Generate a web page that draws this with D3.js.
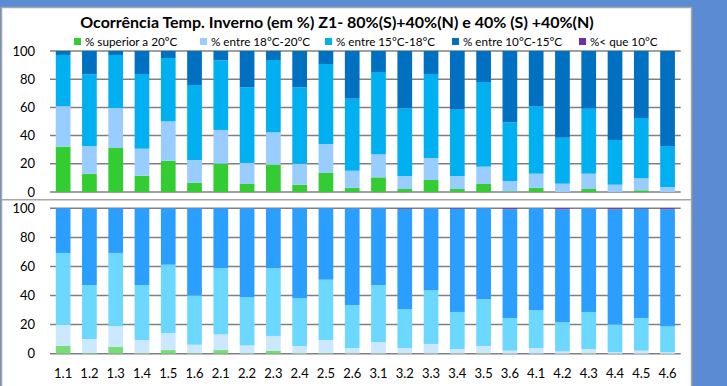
<!DOCTYPE html>
<html><head><meta charset="utf-8">
<script src="https://cdn.jsdelivr.net/npm/d3@7/dist/d3.min.js"></script>
<style>html,body{margin:0;padding:0;background:#5A8BD3;}svg{display:block;font-family:Lato,"Open Sans",sans-serif;}</style>
</head><body><svg id="c" width="727" height="386"></svg>
<script>
const categories = ["1.1","1.2","1.3","1.4","1.5","1.6","2.1","2.2","2.3","2.4","2.5","2.6","3.1","3.2","3.3","3.4","3.5","3.6","4.1","4.2","4.3","4.4","4.5","4.6"];
const seriesNames = ["% superior a 20ºC","% entre 18°C-20°C","% entre 15°C-18°C","% entre 10°C-15°C","%< que 10°C"];
const yTicks = [0,20,40,60,80,100];
const titleText = "Ocorrência Temp. Inverno (em %) Z1- 80%(S)+40%(N) e 40% (S) +40%(N)";

// top panel
const topSup20  = [32.2,13,31.2,11.6,22.2,6.6,20.1,5.7,19.4,5.2,13.5,2.8,10.4,2.1,8.5,2.1,5.7,0.5,2.8,0,2.1,0,1.2,0];
const top18_20  = [28.6,19.6,28.4,19.1,27.9,16.1,23.9,14.9,22.9,14.9,20.5,12.3,16.3,9.2,15.6,9.2,12.3,7.3,10.2,5.9,10.9,5.2,8.5,3.5];
const top15_18  = [36.4,50.9,37.6,53,44.9,53.2,49.4,53.6,51.3,54.1,56.8,51.1,58.4,48,59.6,47.1,60,41.6,47.8,32.6,46.1,31.7,42.8,29.1];
const top10_15  = [2.8,16.5,2.8,16.3,5,24.1,6.6,25.8,6.4,25.8,9.2,33.8,14.9,40.7,16.3,41.6,22,50.6,39.2,61.5,40.9,63.1,47.5,67.4];
const topInf10  = [0,0,0,0,0,0,0,0,0,0,0,0,0,0,0,0,0,0,0,0,0,0,0,0];

// bottom panel
const botSup20  = [5.3,0.4,4.6,0.3,2.5,0.3,2.5,0.2,2.1,0.2,0.3,0.2,0.2,0.1,0.2,0.1,0.2,0,0.1,0,0.1,0,0,0];
const bot18_20  = [14.4,9.7,14.4,9.1,11.7,5.9,10.8,5.5,10.1,5.1,9.1,3.7,7.8,3.8,6.5,3.1,5.1,2.1,3.8,1.6,3.1,1.1,2.1,1.1];
const bot15_18  = [49.6,37.1,50.3,37.8,47,33.9,45.6,33.3,46.7,32.8,41.5,29.6,39.2,26.8,36.9,25.5,32.3,22.4,26.1,20,25.5,19.1,22.4,17.7];
const bot10_15  = [30.7,52.8,30.7,52.8,38.8,59.9,41.1,61,41.1,61.9,49.1,66.5,52.8,69,56.4,71,62.4,74.8,70,77.7,71.3,79.1,75.2,80.5];
const botInf10  = [0,0,0,0,0,0,0,0,0,0,0,0,0,0.3,0,0.3,0,0.7,0,0.7,0,0.7,0.3,0.7];

const topColors = ["#33CC33","#99CCFF","#00B0F0","#0070C0","#7030A0"];
const botColors = ["#77DD77","#CCE8FF","#6DD8FF","#2B9FFF","#7030A0"];

const svg = d3.select("#c");
// frame
svg.append("rect").attr("x",1.5).attr("y",7.5).attr("width",690).attr("height",390)
  .attr("fill","#fff").attr("stroke","#A6A6A6").attr("stroke-width",1.5);
svg.append("line").attr("x1",1.5).attr("x2",691.5).attr("y1",199.8).attr("y2",199.8)
  .attr("stroke","#A6A6A6").attr("stroke-width",1.5);

const x = d3.scaleBand().domain(categories).range([50,680.7]).paddingInner(0.44).paddingOuter(0.22);

function panel(data, colors, y0, y100, showLabels){
  const y = d3.scaleLinear().domain([0,100]).range([y0,y100]);
  const g = svg.append("g");
  // grid
  g.selectAll("line.grid").data(yTicks).join("line")
    .attr("x1",50).attr("x2",680.7).attr("y1",d=>y(d)).attr("y2",d=>y(d))
    .attr("stroke","#808080").attr("stroke-width",1.5);
  // y labels
  const ax = d3.axisLeft(y).tickValues(yTicks).tickSize(0).tickPadding(15);
  const ag = g.append("g").attr("transform","translate(50,0)").call(ax);
  ag.select(".domain").remove();
  ag.selectAll("text").attr("font-size",13).attr("fill","#000").attr("font-family","Lato,sans-serif");
  // stacked bars
  const rows = categories.map((c,i)=>{const o={cat:c}; data.forEach((s,k)=>o["s"+k]=s[i]); return o;});
  const stack = d3.stack().keys(data.map((_,k)=>"s"+k))(rows);
  stack.forEach((layer,k)=>{
    g.append("g").selectAll("rect").data(layer).join("rect")
      .attr("x",d=>x(d.data.cat)).attr("width",x.bandwidth())
      .attr("y",d=>y(d[1])).attr("height",d=>Math.max(0,y(d[0])-y(d[1])))
      .attr("fill",colors[k]);
  });
  if(showLabels){
    const xa = d3.axisBottom(x).tickSize(0).tickPadding(15);
    const xg = g.append("g").attr("transform",`translate(0,${y0})`).call(xa);
    xg.select(".domain").remove();
    xg.selectAll("text").attr("font-size",13).attr("fill","#000").attr("font-family","Lato,sans-serif");
  }
}
panel([topSup20,top18_20,top15_18,top10_15,topInf10], topColors, 192, 51, false);
panel([botSup20,bot18_20,bot15_18,bot10_15,botInf10], botColors, 353.7, 208.3, true);

// title
svg.append("text").attr("x",337).attr("y",27.5).attr("text-anchor","middle")
  .attr("font-size",16).attr("font-weight","bold").attr("fill","#000").text(titleText);
// legend
const legX = [74,200,325,452,579];
const lg = svg.append("g");
seriesNames.forEach((n,k)=>{
  lg.append("rect").attr("x",legX[k]).attr("y",38).attr("width",7).attr("height",7).attr("fill",topColors[k]);
  lg.append("text").attr("x",legX[k]+11).attr("y",45.5).attr("font-size",11.7).attr("fill","#000").text(n);
});
</script></body></html>
